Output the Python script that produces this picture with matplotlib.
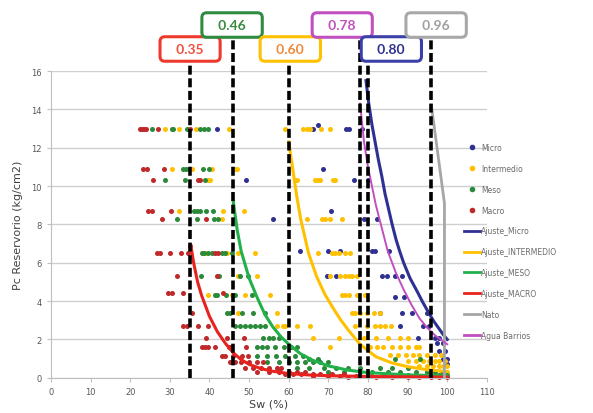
import matplotlib
matplotlib.use("Agg")
import matplotlib.pyplot as plt
from matplotlib.lines import Line2D

# Sw (%) readings grouped by Pc level (kg/cm2)
micro_rows = [
    (13.0, [42.0, 66.2, 74.5, 75.1, 78.5]),
    (13.2, [67.3]),
    (10.9, [68.6]),
    (10.3, [49.2, 76.5, 80.1]),
    (8.7, [70.6]),
    (8.3, [56.1, 78.9, 82.4]),
    (6.6, [62.9, 70.0, 73.0, 81.0, 81.8, 85.2]),
    (5.3, [69.6, 72.0, 83.5, 84.8, 86.9, 88.6]),
    (4.2, [86.9, 89.0]),
    (3.4, [83.1, 88.6, 91.1, 95.0]),
    (2.7, [88.1, 94.0, 95.3]),
    (2.1, [92.5, 97.0, 98.0]),
    (1.8, [97.5, 99.0]),
    (1.4, [98.0, 99.5]),
    (1.0, [99.0, 100.0]),
    (0.7, [100.0]),
]
inter_rows = [
    (13.0, [28.8, 32.4, 36.6, 44.8, 59.1, 63.7, 64.6, 65.4, 68.1, 70.5]),
    (10.9, [30.5, 35.5, 40.6, 46.5, 46.9]),
    (10.3, [39.5, 40.2, 61.6, 62.2, 66.7, 67.3, 67.9, 71.1, 71.7]),
    (8.7, [32.4, 43.5, 48.6]),
    (8.3, [43.1, 64.7, 68.4, 69.2, 70.5, 73.4]),
    (6.5, [39.1, 44.4, 47.3, 51.5, 67.3, 70.9, 71.7, 72.6, 74.2, 75.5]),
    (5.3, [47.3, 52.0, 70.3, 73.0, 74.2, 75.1, 75.9, 77.2]),
    (4.3, [39.7, 45.6, 49.0, 55.3, 73.4, 74.2, 75.1, 77.2, 79.3]),
    (3.4, [47.3, 57.0, 75.9, 76.8, 78.0, 79.7, 81.4, 83.1]),
    (2.7, [57.0, 58.5, 59.1, 62.0, 65.4, 76.8, 79.7, 81.8, 83.1, 84.4, 85.7]),
    (2.1, [66.2, 72.6, 79.1, 82.0, 85.0, 88.0, 90.0]),
    (1.6, [70.5, 80.6, 82.2, 83.9, 86.0, 88.0, 90.0, 92.0, 93.0]),
    (1.2, [85.6, 87.5, 89.5, 91.4, 93.0, 95.0, 97.0, 98.5]),
    (0.9, [90.0, 92.0, 94.0, 95.5, 97.0, 98.0, 99.5]),
    (0.6, [93.0, 95.0, 96.5, 98.0, 99.0, 100.0]),
    (0.3, [95.0, 97.0, 98.5, 100.0]),
]
meso_rows = [
    (13.0, [25.6, 30.5, 30.9, 34.3, 37.6, 38.5, 39.5]),
    (10.9, [33.3, 34.1, 38.3, 40.0]),
    (10.3, [28.8, 33.8, 38.9]),
    (8.7, [36.1, 36.8, 37.6, 39.1, 41.0]),
    (8.3, [31.9, 36.8, 41.2, 42.2]),
    (6.5, [38.0, 38.5, 39.7, 40.6, 43.1, 43.9, 45.6]),
    (5.3, [37.9, 42.5, 47.7, 49.8]),
    (4.3, [41.4, 41.8, 44.2, 46.5, 50.7]),
    (3.4, [44.5, 45.2, 48.2, 51.1, 54.0]),
    (2.7, [46.5, 47.7, 49.0, 50.3, 51.5, 52.8, 54.0]),
    (2.1, [53.6, 54.9, 56.1, 57.5]),
    (1.6, [51.9, 53.2, 54.5, 56.6, 58.7, 60.5, 62.0]),
    (1.15, [51.9, 54.5, 56.8, 59.1, 61.5, 63.5]),
    (1.0, [65.0, 67.5, 86.9, 93.2]),
    (0.8, [54.5, 57.5, 60.0, 62.0, 64.0, 66.0, 68.0, 70.0]),
    (0.5, [62.0, 65.0, 69.0, 72.0, 75.0, 78.0, 83.0, 86.0, 90.0]),
    (0.3, [70.0, 74.0, 78.0, 81.0, 85.0, 88.0, 92.0, 95.0, 97.0, 99.0]),
    (0.15, [80.0, 90.0, 98.0, 100.0]),
]
macro_rows = [
    (13.0, [22.5, 22.9, 23.5, 24.0, 27.1, 35.1]),
    (10.9, [23.3, 24.2, 28.4]),
    (10.3, [25.8, 37.0, 37.6]),
    (8.7, [24.6, 25.4, 30.3]),
    (8.3, [28.0, 39.1]),
    (6.9, [35.0]),
    (6.5, [26.7, 27.5, 30.0, 32.7, 34.7, 41.4, 42.2]),
    (5.3, [31.9, 41.8]),
    (4.4, [29.6, 30.5, 33.4, 43.5]),
    (3.4, [35.5]),
    (2.7, [33.4, 34.3, 37.2, 39.5]),
    (2.1, [39.1, 44.4, 48.6]),
    (1.6, [38.0, 38.9, 39.7, 41.4, 44.8, 45.2, 49.2]),
    (1.15, [43.1, 43.9, 46.0, 48.2, 49.8]),
    (0.8, [45.2, 46.5, 48.0, 50.0, 52.0, 53.5]),
    (0.5, [49.0, 51.0, 53.0, 55.0, 57.0, 58.0]),
    (0.3, [52.0, 55.0, 57.5, 60.0, 62.0, 64.0]),
    (0.2, [59.0, 61.0, 63.0, 66.0, 68.0, 71.0, 74.0]),
    (0.1, [66.0, 70.0, 73.0, 77.0, 80.0, 84.0, 88.0, 91.0, 94.0, 97.0, 99.0]),
    (0.05, [75.0, 82.0, 86.0, 90.0, 93.0, 96.0, 98.0, 100.0]),
]

# fitted curves
macro_fit_sw = [35.3, 36, 37, 38, 40, 42, 44, 46, 48, 50, 53, 56, 60, 65, 70, 80, 90, 100]
macro_fit_pc = [6.9, 6.0, 5.0, 4.3, 3.2, 2.4, 1.8, 1.3, 0.95, 0.7, 0.48, 0.34, 0.22, 0.15, 0.11, 0.07, 0.05, 0.04]
meso_fit_sw = [46, 47, 48, 50, 52, 54, 56, 58, 60, 63, 66, 70, 75, 80, 90, 100]
meso_fit_pc = [9.2, 7.7, 6.6, 5.2, 4.2, 3.3, 2.65, 2.15, 1.75, 1.25, 0.92, 0.62, 0.4, 0.27, 0.15, 0.1]
inter_fit_sw = [60, 61, 62, 63, 65, 67, 69, 71, 73, 75, 78, 82, 86, 90, 95, 100]
inter_fit_pc = [12.3, 10.9, 9.5, 8.3, 6.5, 5.3, 4.4, 3.7, 3.05, 2.5, 1.75, 1.1, 0.78, 0.58, 0.42, 0.33]
micro_fit_sw = [79.5, 80.2, 81.0, 81.8, 82.6, 83.5, 84.3, 85.2, 86.1, 87.1, 88.0, 89.0, 90.6, 92.3, 93.8, 95.3, 96.6, 97.8, 99.0, 100]
micro_fit_pc = [15.5, 14.3, 13.2, 12.3, 11.4, 10.5, 9.6, 8.8, 8.0, 7.2, 6.6, 6.0, 5.2, 4.55, 3.95, 3.4, 2.95, 2.6, 2.25, 2.0]
agua_sw = [78, 79, 80, 81, 82, 83, 85, 87, 89, 91, 93, 95, 97, 99, 100]
agua_pc = [14.3, 12.3, 11.0, 10.0, 9.0, 8.2, 6.6, 5.5, 4.6, 3.8, 3.1, 2.6, 2.2, 1.9, 1.75]
nato_sw = [96, 99.3, 99.3]
nato_pc = [14.2, 9.1, 0.0]

# cut-off saturations and their labels
cut_values = [35, 46, 60, 78, 80, 96]
cut_labels = ["0.35", "0.46", "0.60", "0.78", "0.80", "0.96"]
label_x = [35.1, 45.7, 60.4, 73.5, 85.9, 97.2]
label_y = [17.15, 18.4, 17.15, 18.4, 17.15, 18.4]
label_edge = ["#ee3a2c", "#2e8b40", "#ffc000", "#c050c0", "#3a40a8", "#a8a8a8"]
label_text = ["#f0503c", "#3a8a3e", "#f08a3a", "#c050c0", "#2e3192", "#a0a0a0"]

c_micro = "#2e3192"
c_inter = "#ffc000"
c_meso = "#2a8a3a"
c_macro = "#c0282a"
c_meso_fit = "#22b04a"
c_macro_fit = "#e8231f"
c_agua = "#c04fc0"
c_nato = "#a6a6a6"


def flatten(rows):
    xs, ys = [], []
    for pc, sws in rows:
        xs += sws
        ys += [pc] * len(sws)
    return xs, ys


fig = plt.figure(figsize=(5.93, 4.14), dpi=100)
ax = fig.add_axes([0.086, 0.085, 0.735, 0.741])

ax.set_xlim(0, 110)
ax.set_ylim(0, 16)
ax.set_xticks(range(0, 111, 10))
ax.set_yticks(range(0, 17, 2))
ax.yaxis.grid(True, color="#cfcfcf", lw=1)
ax.set_axisbelow(True)
for s in ("top", "right"):
    ax.spines[s].set_visible(False)
for s in ("left", "bottom"):
    ax.spines[s].set_color("#bfbfbf")
ax.tick_params(labelsize=6, colors="#595959", length=3, color="#bfbfbf")

for rows, col in [(micro_rows, c_micro), (inter_rows, c_inter),
                  (meso_rows, c_meso), (macro_rows, c_macro)]:
    xs, ys = flatten(rows)
    ax.scatter(xs, ys, s=13, color=col, lw=0, zorder=2, clip_on=False)

ax.plot(micro_fit_sw, micro_fit_pc, color=c_micro, lw=2.2, zorder=3)
ax.plot(inter_fit_sw, inter_fit_pc, color=c_inter, lw=2.2, zorder=3)
ax.plot(meso_fit_sw, meso_fit_pc, color=c_meso_fit, lw=2.2, zorder=3)
ax.plot(macro_fit_sw, macro_fit_pc, color=c_macro_fit, lw=2.2, zorder=3)
ax.plot(nato_sw, nato_pc, color=c_nato, lw=2, zorder=3)
ax.plot(agua_sw, agua_pc, color=c_agua, lw=1.4, zorder=3)

for xv, lab, lx, ly, ec, tc in zip(cut_values, cut_labels, label_x, label_y,
                                   label_edge, label_text):
    ax.plot([xv, xv], [0, ly], color="black", lw=2.6, ls=(0, (2.5, 1.0)),
            zorder=4, clip_on=False)
    ax.text(lx, ly, "   " + lab + "   ", ha="center", va="center", fontsize=10,
            fontweight="bold", family="Lato", color=tc, zorder=6,
            bbox=dict(boxstyle="round,pad=0.45,rounding_size=0.35",
                      fc="white", ec=ec, lw=2.2))

ax.set_xlabel("Sw (%)", fontsize=8, color="#404040", labelpad=2)
ax.set_ylabel("Pc Reservorio (kg/cm2)", fontsize=8, color="#404040", labelpad=6)

handles = [
    Line2D([], [], ls="", marker="o", ms=3, color=c_micro, label="Micro"),
    Line2D([], [], ls="", marker="o", ms=3, color=c_inter, label="Intermedio"),
    Line2D([], [], ls="", marker="o", ms=3, color=c_meso, label="Meso"),
    Line2D([], [], ls="", marker="o", ms=3, color=c_macro, label="Macro"),
    Line2D([], [], color=c_micro, lw=2, label="Ajuste_Micro"),
    Line2D([], [], color=c_inter, lw=2, label="Ajuste_INTERMEDIO"),
    Line2D([], [], color=c_meso_fit, lw=2, label="Ajuste_MESO"),
    Line2D([], [], color=c_macro_fit, lw=2, label="Ajuste_MACRO"),
    Line2D([], [], color=c_nato, lw=2, label="Nato"),
    Line2D([], [], color=c_agua, lw=2, label="Agua Barrios"),
]
leg = fig.legend(handles=handles, loc="upper left", bbox_to_anchor=(0.783, 0.652),
                 frameon=False, fontsize=5.5, labelspacing=1.55, handlelength=2.0,
                 handletextpad=0.2, borderpad=0, borderaxespad=0)
for t in leg.get_texts():
    t.set_color("#6a6a6a")

fig.savefig("out.png", dpi=100)
